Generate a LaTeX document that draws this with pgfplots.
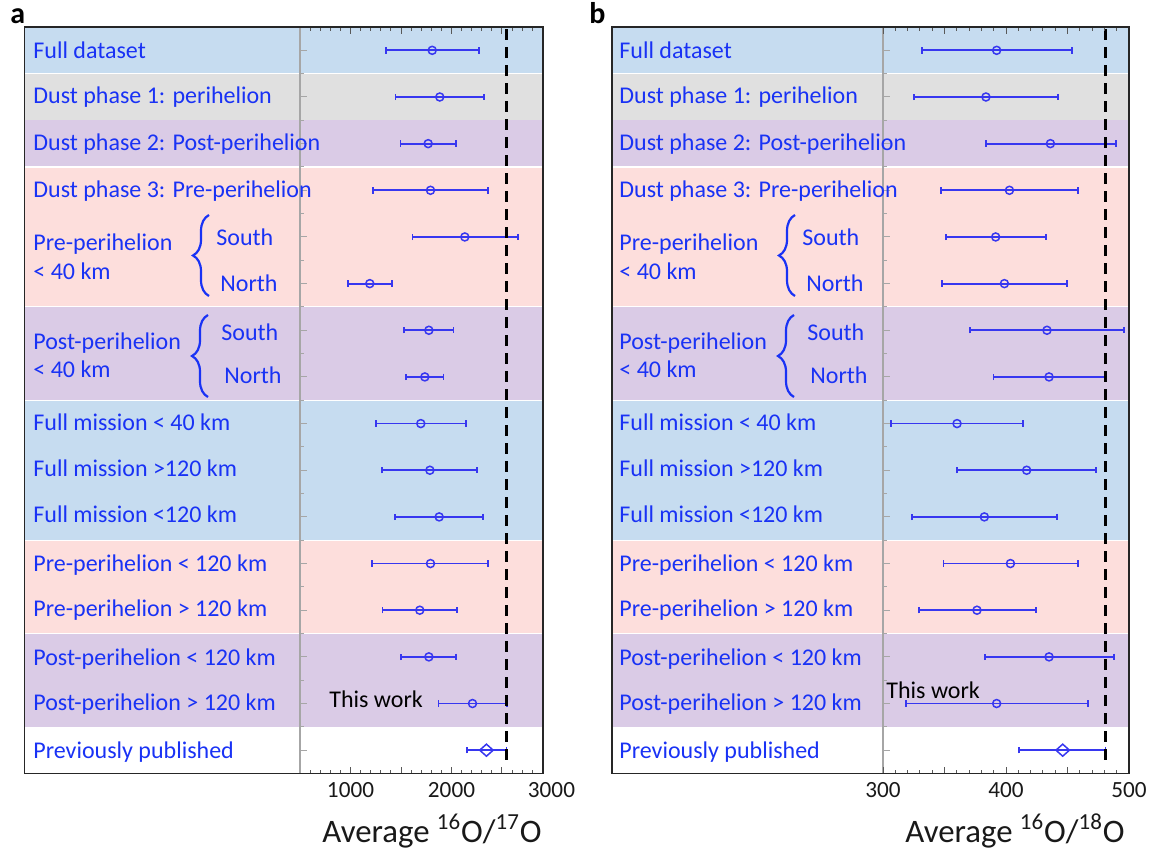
\documentclass[border=0pt]{standalone}
\usepackage{pgfplots}
\pgfplotsset{compat=1.18}
\usepackage{pgfplotstable}
\usepackage{fontspec}
\setmainfont{Carlito}
\usetikzlibrary{decorations.pathreplacing}

\definecolor{bblue}{RGB}{198,220,240}
\definecolor{bgray}{RGB}{224,224,224}
\definecolor{bpurp}{RGB}{218,203,230}
\definecolor{bpink}{RGB}{253,222,220}
\definecolor{lblue}{RGB}{25,50,245}
\definecolor{eblue}{RGB}{55,55,240}

% panel a: 16O/17O  (row, centre, lower end, upper end)
\pgfplotstableread{
r c lo hi
0 1809 1349 2274
1 1884 1446 2320
2 1769 1495 2043
3 1792 1221 2360
4 2132 1614 2660
5 1191 977 1413
6 1776 1531 2020
7 1736 1551 1921
8 1696 1251 2142
9 1786 1310 2254
10 1878 1442 2313
11 1792 1214 2363
12 1686 1317 2052
13 1776 1498 2046
14 2208 1871 2551
}\dataA
\pgfplotstableread{
r c lo hi
15 2346 2152 2544
}\prevA
% panel b: 16O/18O
\pgfplotstableread{
r c lo hi
0 392.4 332.0 453.4
1 383.7 325.0 442.3
2 436.1 383.5 489.2
3 402.8 346.9 458.5
4 391.6 351.2 432.3
5 398.7 347.7 449.4
6 433.3 370.5 495.9
7 435.0 389.8 480.8
8 360.2 306.8 413.8
9 416.8 360.2 473.4
10 382.4 323.6 441.2
11 403.6 349.1 458.5
12 376.4 329.3 424.2
13 435.0 382.7 488.1
14 392.4 318.7 466.4
}\dataB
\pgfplotstableread{
r c lo hi
15 446.1 410.6 480.8
}\prevB

\newcommand\bands[2]{%
 \fill[bblue] (axis cs:#1,-0.5) rectangle (axis cs:#2,0.5);
 \fill[bgray] (axis cs:#1,0.5) rectangle (axis cs:#2,1.5);
 \fill[bpurp] (axis cs:#1,1.5) rectangle (axis cs:#2,2.5);
 \fill[bpink] (axis cs:#1,2.5) rectangle (axis cs:#2,5.5);
 \fill[bpurp] (axis cs:#1,5.5) rectangle (axis cs:#2,7.5);
 \fill[bblue] (axis cs:#1,7.5) rectangle (axis cs:#2,10.5);
 \fill[bpink] (axis cs:#1,10.5) rectangle (axis cs:#2,12.5);
 \fill[bpurp] (axis cs:#1,12.5) rectangle (axis cs:#2,14.5);
 \draw[white,line width=0.7pt] (axis cs:#1,0.5) -- (axis cs:#2,0.5);
 \draw[white,line width=0.7pt] (axis cs:#1,2.5) -- (axis cs:#2,2.5);
 \draw[white,line width=0.5pt] (axis cs:#1,5.5) -- (axis cs:#2,5.5);
 \draw[white,line width=0.5pt] (axis cs:#1,7.5) -- (axis cs:#2,7.5);
 \draw[white,line width=0.5pt] (axis cs:#1,10.5) -- (axis cs:#2,10.5);
 \draw[white,line width=0.5pt] (axis cs:#1,12.5) -- (axis cs:#2,12.5);
}
\newcommand\guide[1]{%
 \draw[black!35,line width=0.6pt] (axis cs:#1,-0.5) -- (axis cs:#1,15.5);
 \pgfplotsinvokeforeach{0,...,15}{\draw[black!35,line width=0.5pt] (axis cs:#1,##1) -- ++(3.5pt,0pt);}
 \pgfplotsinvokeforeach{-0.5,0.5,...,15.5}{\draw[black!35,line width=0.5pt] (axis cs:#1,##1) -- ++(1.8pt,0pt);}
}

\pgfplotsset{
 panel/.style={
  scale only axis, height=373.25pt, y dir=reverse, ymin=-0.5, ymax=15.5,
  ytick=\empty, axis on top, clip=false,
  axis line style={black!85, line width=0.8pt},
  tick style={black!65, line width=0.5pt},
  major tick length=3.5pt, minor tick length=1.8pt,
  tick align=inside,
  xticklabel style={font=\fontsize{11.6}{13}\selectfont, text=black!90, yshift=-1pt},
  /pgf/number format/assume math mode=true,
  /pgf/number format/1000 sep={},
 },
 ebar/.style={error bars/.cd, x dir=both, x explicit,
  error mark=|,
  error bar style={line width=0.9pt, solid},
  error mark options={mark size=1.6pt, line width=0.9pt}},
}

\newcommand\lf{\fontsize{12}{14}\selectfont}
\newcommand\lab[3]{\node[anchor=base west, inner sep=0pt, text=lblue, font=\lf] at (#1,#2) {#3};}
\newcommand\panellabels{%
 \lab{33}{59}{Full dataset}
 \lab{33}{104}{Dust phase 1: perihelion}
 \lab{33}{150.7}{Dust phase 2: Post-perihelion}
 \lab{33}{197.3}{Dust phase 3: Pre-perihelion}
 \lab{33}{250.7}{Pre-perihelion}
 \lab{33}{279.3}{< 40 km}
 \lab{216}{246}{South}
 \lab{220}{291.7}{North}
 \lab{33}{349.3}{Post-perihelion}
 \lab{33}{377.3}{< 40 km}
 \lab{221}{340.7}{South}
 \lab{224}{383.3}{North}
 \lab{33}{430.7}{Full mission < 40 km}
 \lab{33}{476.7}{Full mission >120 km}
 \lab{33}{522.7}{Full mission <120 km}
 \lab{33}{571.7}{Pre-perihelion < 120 km}
 \lab{33}{616.7}{Pre-perihelion > 120 km}
 \lab{33}{665.7}{Post-perihelion < 120 km}
 \lab{33}{710.7}{Post-perihelion > 120 km}
 \lab{33}{758.3}{Previously published}
 \draw[lblue, line width=1.1pt, decorate, decoration={brace, amplitude=8pt, aspect=0.5}] (209,296) -- (209,215);
 \draw[lblue, line width=1.1pt, decorate, decoration={brace, amplitude=8pt, aspect=0.5}] (208,397) -- (208,315);
}

\begin{document}
\begin{tikzpicture}
\useasboundingbox (0,0) rectangle (574.5pt,-424.5pt);

% ---------------- panel a ----------------
\begin{axis}[panel, at={(12.25pt,-13.5pt)}, anchor=north west, width=259.25pt,
  xmin=-2228, xmax=2906,
  xtick={1000,1500,2000,2500}, xticklabels={1000,,2000,},
  minor xtick={600,700,...,2900}]
 \bands{-2228}{2906}
 \guide{500}
 \addplot[only marks, eblue, mark=o, mark size=2pt, mark options={line width=0.75pt}, ebar]
   table[x=c, y=r, x error plus expr=\thisrow{hi}-\thisrow{c}, x error minus expr=\thisrow{c}-\thisrow{lo}] {\dataA};
 \addplot[only marks, eblue, mark=diamond, mark size=3pt, mark options={line width=0.75pt, xscale=1.5}, ebar]
   table[x=c, y=r, x error plus expr=\thisrow{hi}-\thisrow{c}, x error minus expr=\thisrow{c}-\thisrow{lo}] {\prevA};
 \addplot[black, line width=1.3pt, dash pattern=on 5.5pt off 3.5pt] coordinates {(2545,-0.45) (2545,15.2)};
 \node[anchor=north, font=\fontsize{11.6}{13}\selectfont, text=black!90, yshift=-1pt] at (axis cs:2990,15.5) {3000};
\end{axis}

% ---------------- panel b ----------------
\begin{axis}[panel, at={(306pt,-13.5pt)}, anchor=north west, width=258.5pt,
  xmin=79.7, xmax=500,
  xtick={300,350,400,450,500}, xticklabels={300,,400,,500},
  minor xtick={310,320,...,490}]
 \bands{79.7}{500}
 \guide{300}
 \addplot[only marks, eblue, mark=o, mark size=2pt, mark options={line width=0.75pt}, ebar]
   table[x=c, y=r, x error plus expr=\thisrow{hi}-\thisrow{c}, x error minus expr=\thisrow{c}-\thisrow{lo}] {\dataB};
 \addplot[only marks, eblue, mark=diamond, mark size=3pt, mark options={line width=0.75pt, xscale=1.5}, ebar]
   table[x=c, y=r, x error plus expr=\thisrow{hi}-\thisrow{c}, x error minus expr=\thisrow{c}-\thisrow{lo}] {\prevB};
 \addplot[black, line width=1.3pt, dash pattern=on 5.5pt off 3.5pt] coordinates {(481,-0.45) (481,15.2)};
\end{axis}

% ---------------- texts ----------------
\begin{scope}[x=0.5pt, y=-0.5pt]
 \panellabels
 \begin{scope}[xshift=293pt]
  \panellabels
 \end{scope}
 \node[anchor=base west, inner sep=0pt, font=\bfseries\fontsize{15}{18}\selectfont] at (10,24) {a};
 \node[anchor=base west, inner sep=0pt, font=\bfseries\fontsize{15}{18}\selectfont] at (589,24) {b};
 \node[anchor=base west, inner sep=0pt, font=\lf, text=black] at (329,707) {This work};
 \node[anchor=base west, inner sep=0pt, font=\lf, text=black] at (886,698) {This work};
 \node[anchor=center, inner sep=0pt, font=\fontsize{16.4}{19}\selectfont, text=black!90] at (432,831)
   {Average \textsuperscript{16}O/\textsuperscript{17}O};
 \node[anchor=center, inner sep=0pt, font=\fontsize{16.4}{19}\selectfont, text=black!90] at (1015,831)
   {Average \textsuperscript{16}O/\textsuperscript{18}O};
\end{scope}
\end{tikzpicture}
\end{document}
